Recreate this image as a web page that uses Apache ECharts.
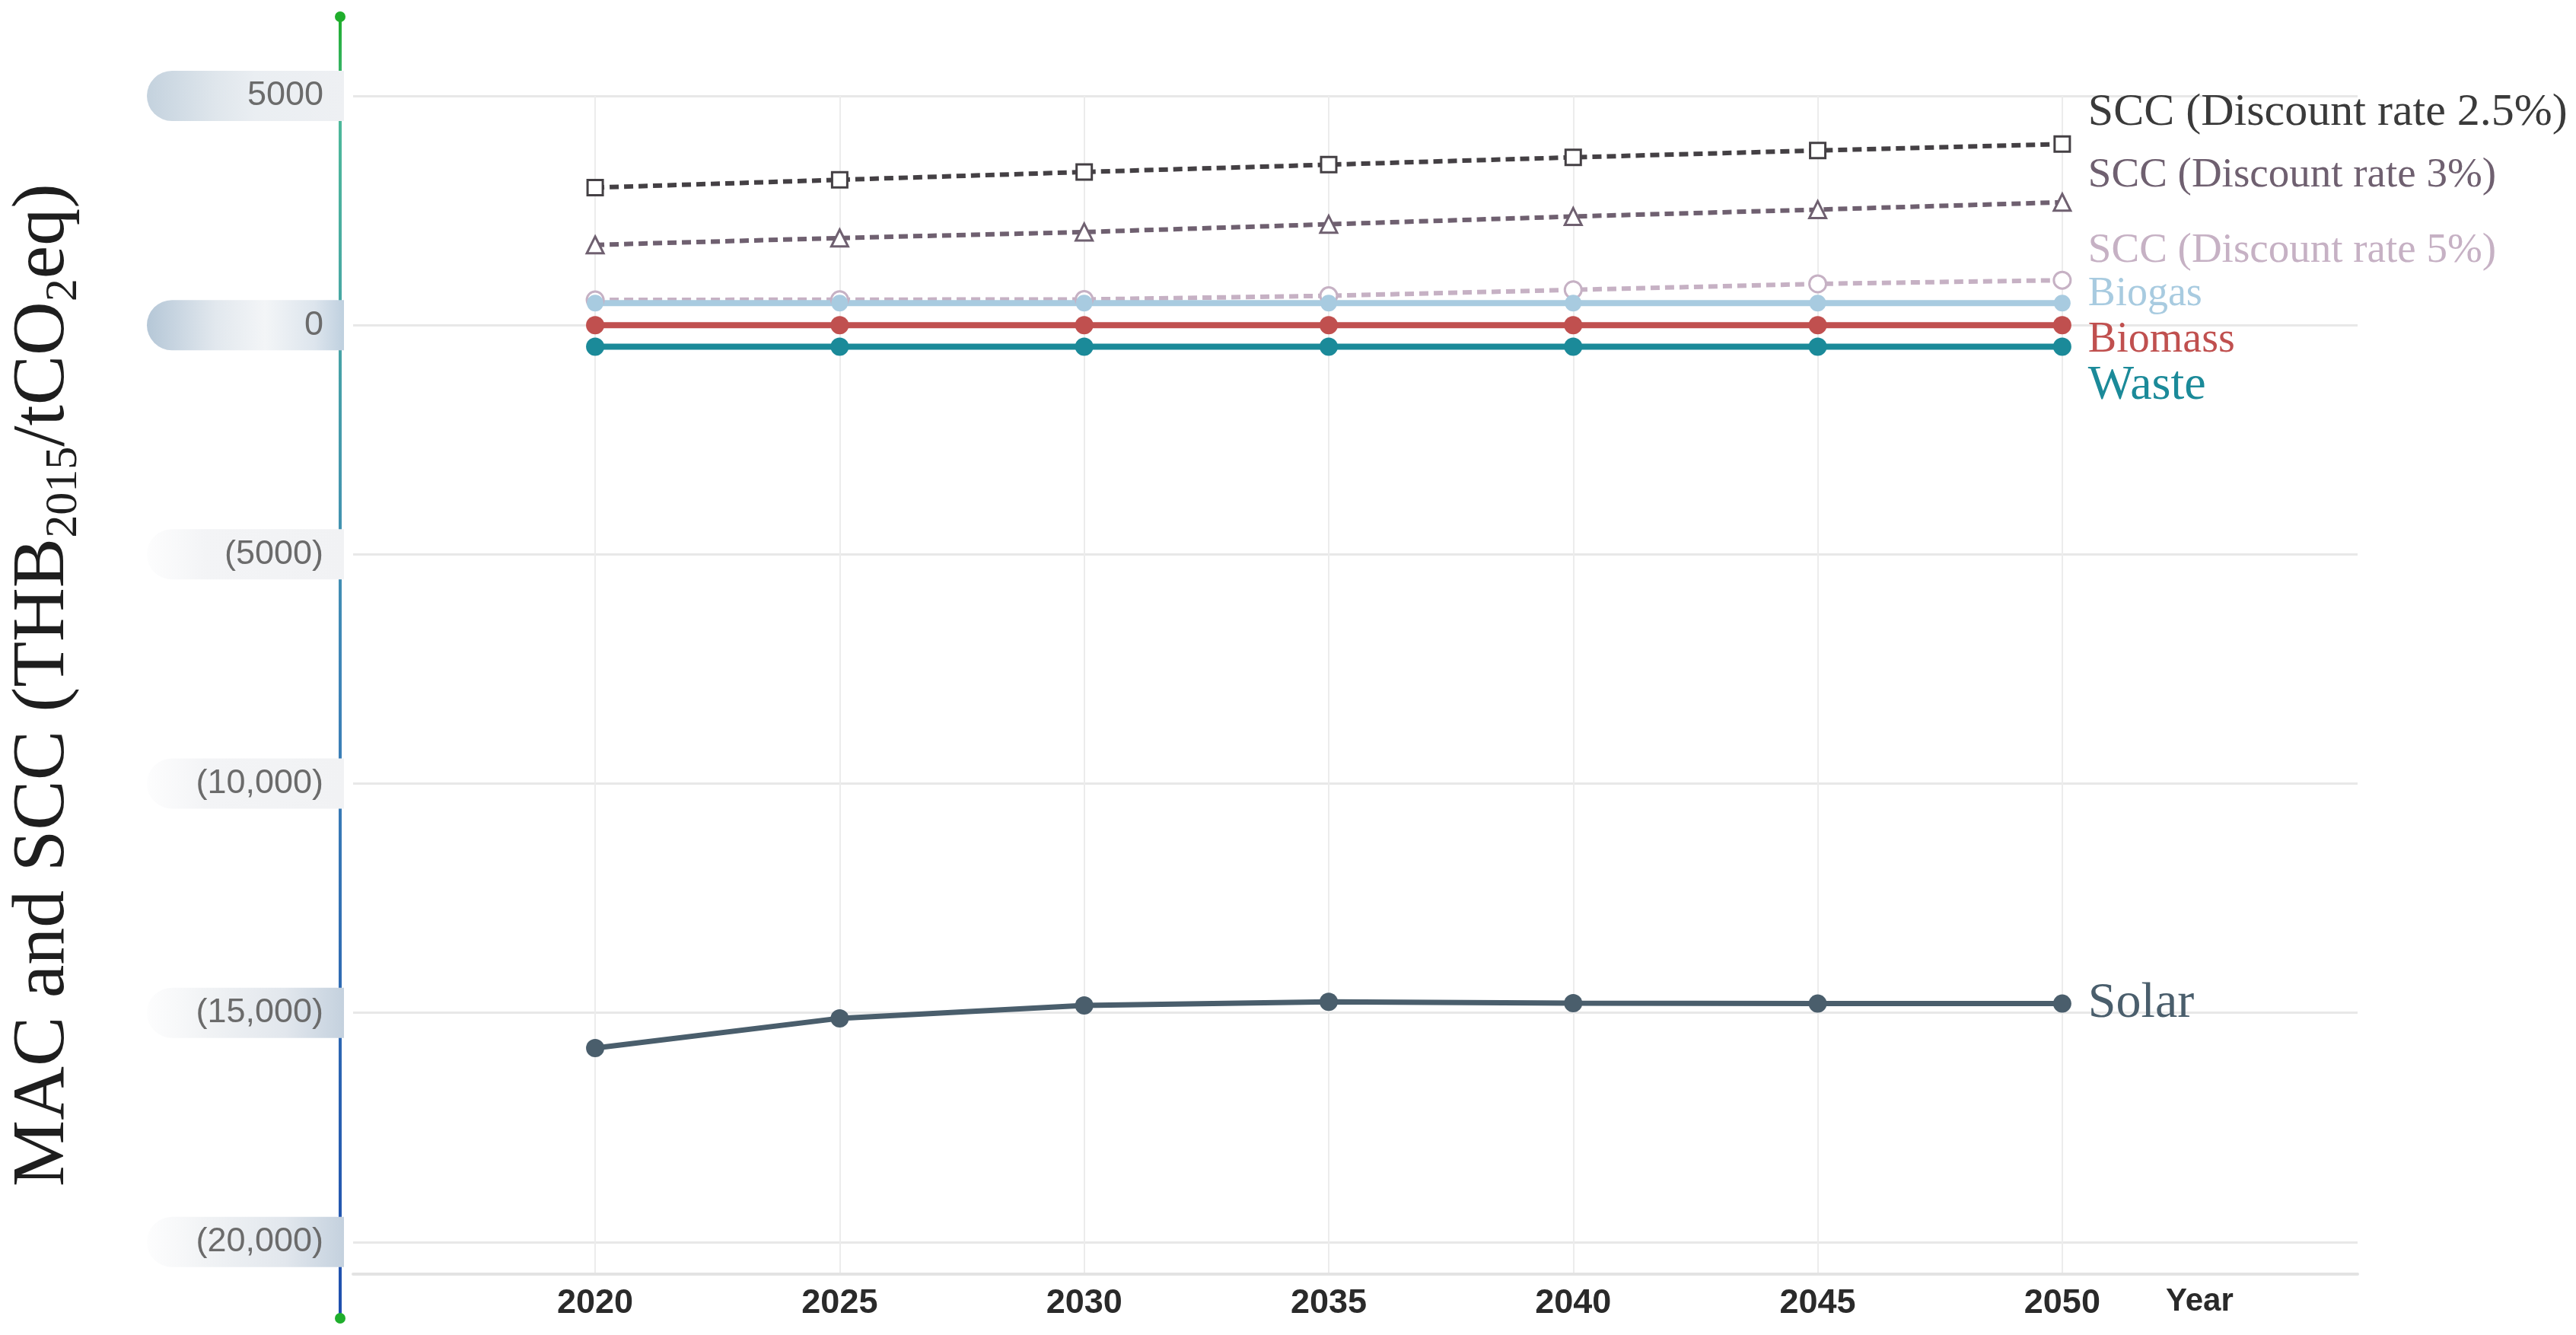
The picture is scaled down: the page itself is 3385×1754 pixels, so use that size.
<!DOCTYPE html>
<html><head><meta charset="utf-8">
<script src="https://cdn.jsdelivr.net/npm/echarts@6/dist/echarts.min.js"></script>
<style>html,body{margin:0;padding:0;background:#fff}#c{width:3385px;height:1754px}</style>
</head><body><div id="c"></div>
<script>
const years = [2020, 2025, 2030, 2035, 2040, 2045, 2050];
const scc25 = [3000, 3170, 3340, 3500, 3660, 3810, 3950];
const scc3 = [1750, 1900, 2030, 2200, 2370, 2520, 2680];
const scc5 = [550, 555, 560, 640, 770, 900, 980];
const biogas = [480, 480, 480, 480, 480, 480, 480];
const biomass = [0, 0, 0, 0, 0, 0, 0];
const waste = [-470, -470, -470, -470, -470, -470, -470];
const solar = [-15770, -15120, -14840, -14760, -14790, -14800, -14800];
const yTickValues = [5000, 0, -5000, -10000, -15000, -20000];
const yTickLabels = ['5000', '0', '(5000)', '(10,000)', '(15,000)', '(20,000)'];
const yTickStyles = ['pa', 'pb', 'pc', 'pc', 'pd', 'pd'];

const LG = echarts.graphic.LinearGradient;
function pair(arr) { return years.map((y, i) => [y, arr[i]]); }
const pillBase = {
  width: 232, height: 66, align: 'right', padding: [0, 27, 0, 0],
  borderRadius: [33, 0, 0, 33], fontSize: 45, color: '#6b6b6b',
  fontFamily: '"Liberation Sans", Arial, sans-serif'
};
function pill(stops) { return Object.assign({}, pillBase, { backgroundColor: new LG(0, 0, 1, 0, stops) }); }

const serif = '"Liberation Serif", "Times New Roman", serif';
function endLab(text, color, size, dy) {
  return { show: true, formatter: text, color: color, fontSize: size, fontFamily: serif, distance: 34, offset: [0, dy] };
}
function lineSeries(name, data, color, opts) {
  return Object.assign({
    name: name, type: 'line', data: pair(data),
    symbol: 'circle', symbolSize: 24,
    lineStyle: { color: color, width: 8 },
    itemStyle: { color: color },
    endLabel: endLab(name, color, 60, 0),
    emphasis: { disabled: true }
  }, opts);
}

const chart = echarts.init(document.getElementById('c'));
chart.setOption({
  animation: false,
  backgroundColor: '#ffffff',
  grid: [
    { left: 464, right: 287, top: 126, bottom: 80, outerBoundsMode: 'none' },
    { left: 447, width: 2, top: 22, bottom: 22, outerBoundsMode: 'none' }
  ],
  xAxis: [
    {
      gridIndex: 0, type: 'value', min: 2015.05, max: 2056.04,
      axisLine: { show: true, onZero: false, lineStyle: { color: '#e3e3e3', width: 4 } },
      axisTick: { show: false, customValues: years },
      axisLabel: { customValues: years, margin: 16, fontSize: 45, fontWeight: 'bold', color: '#2a2a2a', fontFamily: '"Liberation Sans", Arial, sans-serif', formatter: v => String(v) },
      splitLine: { show: true, lineStyle: { color: '#ececec', width: 2 } },
      name: '\nYear', nameLocation: 'end', nameGap: -252, nameMoveOverlap: false,
      nameTextStyle: { fontSize: 42, lineHeight: 72, fontWeight: 'bold', color: '#2a2a2a', fontFamily: '"Liberation Sans", Arial, sans-serif', align: 'left', verticalAlign: 'middle' }
    },
    { gridIndex: 1, type: 'value', show: false }
  ],
  yAxis: [
    {
      gridIndex: 0, type: 'value', min: -20700, max: 5000,
      axisLine: { show: false },
      axisTick: { show: false, customValues: yTickValues },
      axisLabel: {
        customValues: yTickValues, margin: 12,
        formatter: v => { const i = yTickValues.indexOf(v); return i < 0 ? '' : '{' + yTickStyles[i] + '|' + yTickLabels[i] + '}'; },
        rich: {
          pa: pill([{ offset: 0, color: '#c4d2de' }, { offset: 0.35, color: '#dfe6ec' }, { offset: 0.55, color: '#eaeef2' }, { offset: 1, color: '#eef0f3' }]),
          pb: pill([{ offset: 0, color: '#b5c7d7' }, { offset: 0.35, color: '#e2e8ee' }, { offset: 0.6, color: '#f3f5f7' }, { offset: 0.85, color: '#dde5ed' }, { offset: 1, color: '#bfd0df' }]),
          pc: pill([{ offset: 0, color: 'rgba(244,245,247,0.2)' }, { offset: 0.3, color: '#f3f4f6' }, { offset: 1, color: '#f1f2f4' }]),
          pd: pill([{ offset: 0, color: 'rgba(244,245,247,0.2)' }, { offset: 0.3, color: '#f1f3f5' }, { offset: 0.7, color: '#e2e7ed' }, { offset: 1, color: '#c4d1de' }])
        }
      },
      splitLine: { show: true, lineStyle: { color: '#e8e8e8', width: 3 } },
      name: '{n|MAC and SCC (THB}{s|2015}{n|/tCO}{s|2}{n|eq)}',
      nameLocation: 'middle', nameRotate: 90, nameGap: 350, nameMoveOverlap: false,
      nameTextStyle: {
        rich: {
          n: { fontSize: 98, lineHeight: 114, fontFamily: serif, color: '#1e1e1e' },
          s: { fontSize: 60, lineHeight: 60, verticalAlign: 'bottom', fontFamily: serif, color: '#1e1e1e' }
        }
      }
    },
    {
      gridIndex: 1, type: 'value', min: 0, max: 1,
      axisLine: {
        show: true, symbol: ['circle', 'circle'], symbolSize: [14, 14],
        lineStyle: { width: 4, color: new LG(0, 22, 0, 1732, [{ offset: 0, color: '#1fae2c' }, { offset: 0.08, color: '#4db89a' }, { offset: 0.5, color: '#3f86b8' }, { offset: 1, color: '#1f4fae' }], true) }
      },
      axisTick: { show: false }, axisLabel: { show: false }, splitLine: { show: false }
    }
  ],
  series: [
    lineSeries('Solar', solar, '#4a5e6c', { lineStyle: { color: '#4a5e6c', width: 7 }, endLabel: endLab('Solar', '#4a5e6c', 66, 0) }),
    lineSeries('Waste', waste, '#1b8a99', { endLabel: endLab('Waste', '#1b8a99', 64, 52) }),
    lineSeries('Biomass', biomass, '#c0504f', { endLabel: endLab('Biomass', '#c0504f', 56, 20) }),
    lineSeries('SCC (Discount rate 5%)', scc5, '#c6b1c4', {
      symbol: 'circle', symbolSize: 22,
      lineStyle: { color: '#c6b1c4', width: 6, type: [12, 7] },
      itemStyle: { color: '#ffffff', borderColor: '#c6b1c4', borderWidth: 3 },
      endLabel: endLab('SCC (Discount rate 5%)', '#c6b1c4', 55, -39)
    }),
    lineSeries('Biogas', biogas, '#a8cbe0', { symbolSize: 22, endLabel: endLab('Biogas', '#a8cbe0', 54, -11) }),
    lineSeries('SCC (Discount rate 3%)', scc3, '#6f6070', {
      symbol: 'triangle', symbolSize: 22,
      lineStyle: { color: '#6f6070', width: 6, type: [12, 7] },
      itemStyle: { color: '#ffffff', borderColor: '#6f6070', borderWidth: 3 },
      endLabel: endLab('SCC (Discount rate 3%)', '#6f6070', 55, -35)
    }),
    lineSeries('SCC (Discount rate 2.5%)', scc25, '#444044', {
      symbol: 'rect', symbolSize: 20,
      lineStyle: { color: '#444044', width: 6, type: [12, 7] },
      itemStyle: { color: '#ffffff', borderColor: '#444044', borderWidth: 3 },
      endLabel: endLab('SCC (Discount rate 2.5%)', '#3a3a3a', 60, -41)
    })
  ]
});
</script>
</body></html>
